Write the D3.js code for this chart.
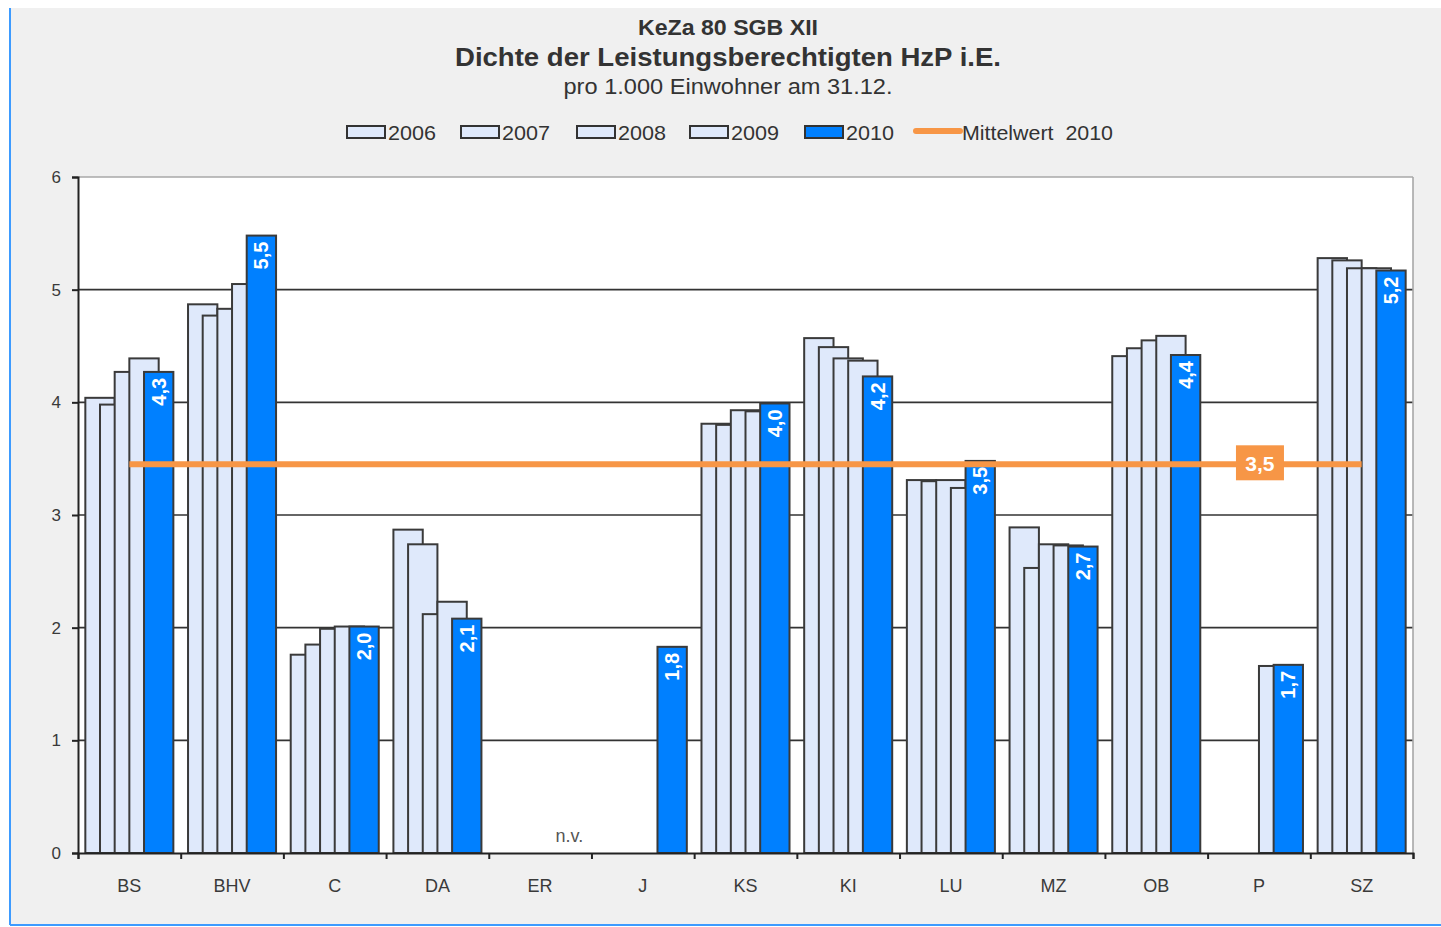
<!DOCTYPE html>
<html>
<head>
<meta charset="utf-8">
<script src="https://cdn.jsdelivr.net/npm/d3@7"></script>
<style>
  html, body { margin: 0; padding: 0; background: #ffffff; }
  svg { display: block; }
  text { font-family: "Liberation Sans", Arial, sans-serif; }
</style>
</head>
<body>
<svg id="chart" width="1441" height="927"></svg>
<script>
// ---------- data ----------
const categories = ["BS","BHV","C","DA","ER","J","KS","KI","LU","MZ","OB","P","SZ"];
const years = ["2006","2007","2008","2009","2010"];
const v2006 = [4.04, 4.87, 1.76, 2.87, null, null, 3.81, 4.57, 3.31, 2.89, 4.41, null, 5.28];
const v2007 = [3.98, 4.77, 1.85, 2.74, null, null, 3.80, 4.49, 3.30, 2.53, 4.48, null, 5.26];
const v2008 = [4.27, 4.83, 1.99, 2.12, null, null, 3.93, 4.39, 3.31, 2.74, 4.55, null, 5.19];
const v2009 = [4.39, 5.05, 2.01, 2.23, null, null, 3.92, 4.37, 3.24, 2.73, 4.59, 1.66, 5.19];
const v2010 = [4.27, 5.48, 2.01, 2.08, null, 1.83, 3.99, 4.23, 3.48, 2.72, 4.42, 1.67, 5.17];
const mean2010 = [3.45, 3.45, 3.45, 3.45, 3.45, 3.45, 3.45, 3.45, 3.45, 3.45, 3.45, 3.45, 3.45];
const meanLabelCategory = "P";
const missingLabel = "n.v.";
const yTicks = [0, 1, 2, 3, 4, 5, 6];
const titleLines = ["KeZa 80 SGB XII", "Dichte der Leistungsberechtigten HzP i.E.", "pro 1.000 Einwohner am 31.12."];
const meanName = "Mittelwert  2010";

const series = [v2006, v2007, v2008, v2009, v2010];

// ---------- styles ----------
const lightFill = "#dfe9fb";
const blueFill = "#0080ff";
const barStroke = "#3a3a3a";
const orange = "#f79646";
const textCol = "#3a3a3a";

const svg = d3.select("#chart");

// chart area background + border
svg.append("rect").attr("x", 10).attr("y", 8).attr("width", 1431).attr("height", 917).attr("fill", "#f0f0f0");
svg.append("line").attr("x1", 10).attr("x2", 10).attr("y1", 8).attr("y2", 925).attr("stroke", "#3d9bff").attr("stroke-width", 2);
svg.append("line").attr("x1", 10).attr("x2", 1441).attr("y1", 925).attr("y2", 925).attr("stroke", "#3d9bff").attr("stroke-width", 2);

// plot geometry
const x0 = 78, x1 = 1413, yTop = 177, yBot = 853;
const x = d3.scaleBand().domain(categories).range([x0, x1]).paddingInner(0).paddingOuter(0);
const y = d3.scaleLinear().domain([0, 6]).range([yBot, yTop]);
const bw = x.bandwidth();
const barW = bw / 3.5;          // gap width 50%
const step = barW * 0.5;        // overlap 50%
const barLeft = (c, i) => x(c) + barW * 0.25 + i * step;

// plot area
svg.append("rect").attr("x", x0).attr("y", yTop).attr("width", x1 - x0).attr("height", yBot - yTop).attr("fill", "#ffffff");

// gridlines
svg.append("g").selectAll("line").data(yTicks.filter(t => t > 0 && t < 6)).join("line")
  .attr("x1", x0).attr("x2", x1).attr("y1", d => y(d)).attr("y2", d => y(d))
  .attr("stroke", "#333").attr("stroke-width", 1.6);
// top / right border
svg.append("line").attr("x1", x0).attr("x2", x1).attr("y1", y(6)).attr("y2", y(6)).attr("stroke", "#a8a8a8").attr("stroke-width", 1.6);
svg.append("line").attr("x1", x1).attr("x2", x1).attr("y1", yTop).attr("y2", yBot).attr("stroke", "#a8a8a8").attr("stroke-width", 1.6);

// bars
series.forEach((vals, i) => {
  const data = categories.map((c, k) => ({c, v: vals[k]})).filter(d => d.v != null);
  svg.append("g").selectAll("rect").data(data).join("rect")
    .attr("x", d => barLeft(d.c, i))
    .attr("y", d => y(d.v))
    .attr("width", barW)
    .attr("height", d => y(0) - y(d.v))
    .attr("fill", i === 4 ? blueFill : lightFill)
    .attr("stroke", barStroke)
    .attr("stroke-width", 2);
});

// axes
const yAxis = d3.axisLeft(y).tickValues(yTicks).tickSize(6).tickFormat(d3.format("d"));
const gy = svg.append("g").attr("transform", `translate(${x0},0)`).call(yAxis);
gy.select(".domain").attr("stroke", "#222").attr("stroke-width", 2);
gy.selectAll(".tick line").attr("stroke", "#222").attr("stroke-width", 2);
gy.selectAll(".tick text").attr("x", -17).attr("fill", textCol).attr("font-size", 17)
  .attr("font-family", "Liberation Sans, Arial, sans-serif");

const idx = d3.scaleLinear().domain([0, categories.length]).range([x0, x1]);
const gxTicks = svg.append("g").attr("transform", `translate(0,${yBot})`)
  .call(d3.axisBottom(idx).tickValues(d3.range(0, categories.length + 1)).tickSize(6).tickFormat(""));
gxTicks.select(".domain").attr("stroke", "#222").attr("stroke-width", 2);
gxTicks.selectAll(".tick line").attr("stroke", "#222").attr("stroke-width", 2);

const gx = svg.append("g").attr("transform", `translate(0,${yBot})`)
  .call(d3.axisBottom(x).tickSize(0).tickPadding(26));
gx.select(".domain").remove();
gx.selectAll(".tick text").attr("fill", textCol).attr("font-size", 18)
  .attr("font-family", "Liberation Sans, Arial, sans-serif");

// mean line
const meanData = categories.map((c, k) => ({c, v: mean2010[k]}));
svg.append("path").datum(meanData)
  .attr("d", d3.line().x(d => x(d.c) + bw / 2).y(d => y(d.v)))
  .attr("fill", "none").attr("stroke", orange).attr("stroke-width", 6);

// data labels 2010 (rotated)
const fmt = d => d3.format(".1f")(d).replace(".", ",");
const lab = categories.map((c, k) => ({c, v: v2010[k]})).filter(d => d.v != null);
svg.append("g").selectAll("text").data(lab).join("text")
  .attr("transform", d => `translate(${barLeft(d.c, 4) + barW / 2 + 7},${y(d.v) + 6}) rotate(-90)`)
  .attr("text-anchor", "end")
  .attr("fill", "#ffffff").attr("font-weight", "bold").attr("font-size", 20)
  .text(d => fmt(d.v));

// n.v. label
categories.forEach((c, k) => {
  if (series.every(s => s[k] == null)) {
    svg.append("text").attr("x", barLeft(c, 4) + barW / 2).attr("y", y(0) - 11)
      .attr("text-anchor", "middle").attr("fill", "#555").attr("font-size", 18)
      .text(missingLabel);
  }
});

// mean label
const mk = categories.indexOf(meanLabelCategory);
const mx = x(meanLabelCategory) + bw / 2, my = y(mean2010[mk]);
svg.append("rect").attr("x", mx - 23).attr("y", my - 19).attr("width", 48).attr("height", 35).attr("fill", orange);
svg.append("text").attr("x", mx + 1).attr("y", my + 7).attr("text-anchor", "middle")
  .attr("fill", "#ffffff").attr("font-size", 21).attr("font-weight", "bold").text(fmt(mean2010[mk]));

// titles
const cx = 728;
svg.append("text").attr("x", cx).attr("y", 35).attr("text-anchor", "middle").attr("font-weight", "bold")
  .attr("font-size", 22).attr("fill", "#333").attr("textLength", 180).attr("lengthAdjust", "spacingAndGlyphs").text(titleLines[0]);
svg.append("text").attr("x", cx).attr("y", 66).attr("text-anchor", "middle").attr("font-weight", "bold")
  .attr("font-size", 26).attr("fill", "#333").attr("textLength", 546).attr("lengthAdjust", "spacingAndGlyphs").text(titleLines[1]);
svg.append("text").attr("x", cx).attr("y", 94).attr("text-anchor", "middle")
  .attr("font-size", 22).attr("fill", "#333").attr("textLength", 329).attr("lengthAdjust", "spacingAndGlyphs").text(titleLines[2]);

// legend
const legX = [347, 461, 577, 690, 805];
const legend = svg.append("g");
years.forEach((yr, i) => {
  legend.append("rect").attr("x", legX[i]).attr("y", 126).attr("width", 38).attr("height", 12)
    .attr("fill", i === 4 ? blueFill : lightFill).attr("stroke", "#333").attr("stroke-width", 2);
  legend.append("text").attr("x", legX[i] + 41).attr("y", 140).attr("font-size", 21).attr("fill", "#333")
    .attr("textLength", 48).attr("lengthAdjust", "spacingAndGlyphs").text(yr);
});
legend.append("line").attr("x1", 916).attr("x2", 960).attr("y1", 131).attr("y2", 131)
  .attr("stroke", orange).attr("stroke-width", 6).attr("stroke-linecap", "round");
legend.append("text").attr("x", 962).attr("y", 140).attr("font-size", 21).attr("fill", "#333")
  .attr("textLength", 151).attr("lengthAdjust", "spacingAndGlyphs").attr("xml:space", "preserve").text(meanName);
</script>
</body>
</html>
